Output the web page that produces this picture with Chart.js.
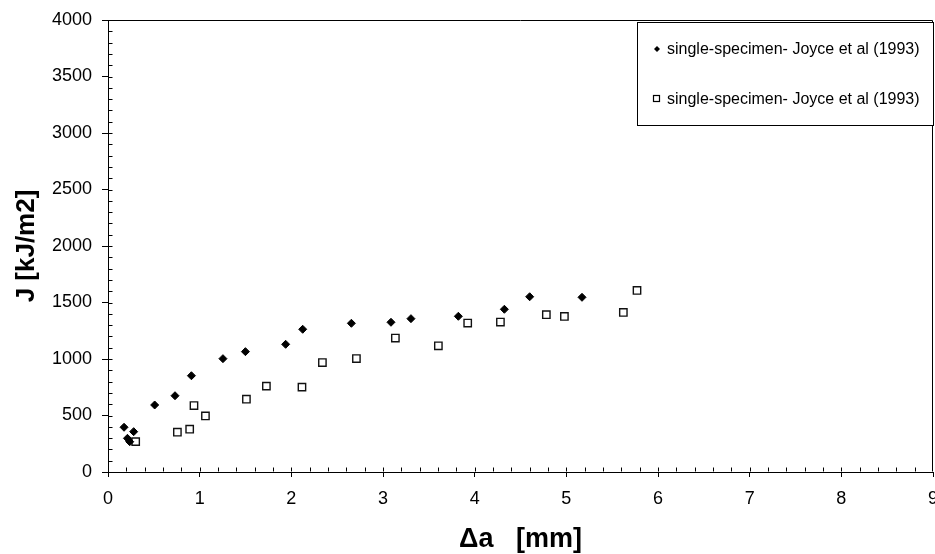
<!DOCTYPE html>
<html>
<head>
<meta charset="utf-8">
<script src="https://cdn.jsdelivr.net/npm/chart.js@4/dist/chart.umd.min.js"></script>
<style>
  body { margin: 0; background: #fff; }
  #wrap { width: 935px; height: 554px; position: relative; }
</style>
</head>
<body>
<div id="wrap"><canvas id="jr"></canvas></div>
<script>
const legendText = 'single-specimen- Joyce et al (1993)';

const filledX = [0.175, 0.212, 0.237, 0.280, 0.509, 0.731, 0.910, 1.254, 1.499, 1.938, 2.124, 2.655, 3.087, 3.305, 3.822, 4.324, 4.600, 5.171];
const filledJ = [396, 298, 268, 357, 593, 675, 852, 1003, 1065, 1130, 1263, 1316, 1325, 1357, 1378, 1440, 1551, 1546];

const openX = [0.302, 0.757, 0.891, 0.938, 1.063, 1.510, 1.728, 2.116, 2.339, 2.710, 3.135, 3.604, 3.924, 4.281, 4.782, 4.979, 5.622, 5.771];
const openJ = [269, 352, 379, 588, 496, 644, 760, 751, 969, 1004, 1185, 1117, 1318, 1327, 1392, 1377, 1412, 1607];

const xTicks = [0, 1, 2, 3, 4, 5, 6, 7, 8, 9];
const yTicks = [0, 500, 1000, 1500, 2000, 2500, 3000, 3500, 4000];

const FONT = '"Liberation Sans", Arial, sans-serif';

function pts(xs, ys) {
  return xs.map((x, i) => ({ x: x, y: ys[i] }));
}

// minor ticks inside the frame, frame top/right, legend box
const frame = {
  id: 'frame',
  afterDraw(chart) {
    const ctx = chart.ctx;
    const a = chart.chartArea;
    const xs = chart.scales.x, ys = chart.scales.y;
    const L = Math.round(a.left) + 0.5, R = Math.round(a.right) - 0.5;
    const T = Math.round(a.top) + 0.5, B = Math.round(a.bottom) - 0.5;
    ctx.save();
    ctx.strokeStyle = '#000';
    ctx.lineWidth = 1;
    ctx.beginPath();
    ctx.moveTo(L, T); ctx.lineTo(R, T); ctx.lineTo(R, B);
    // x minor ticks every 0.2
    for (let v = 0.2; v < 9; v += 0.2) {
      const px = Math.round(xs.getPixelForValue(v)) + 0.5;
      ctx.moveTo(px, B); ctx.lineTo(px, B - 4);
    }
    // y minor ticks every 100
    for (let v = 100; v < 4000; v += 100) {
      const py = Math.round(ys.getPixelForValue(v)) + 0.5;
      ctx.moveTo(L, py); ctx.lineTo(L + 4, py);
    }
    ctx.stroke();

    // legend
    const bx = 637.5, by = 22.5, bw = 296, bh = 103;
    ctx.fillStyle = '#fff';
    ctx.fillRect(bx, by, bw, bh);
    ctx.strokeRect(bx, by, bw, bh);
    ctx.fillStyle = '#000';
    ctx.beginPath();
    ctx.moveTo(657, 46); ctx.lineTo(660, 49); ctx.lineTo(657, 52); ctx.lineTo(654, 49);
    ctx.closePath();
    ctx.fill();
    ctx.lineWidth = 1.2;
    ctx.strokeRect(653.5, 95.5, 6, 6);
    ctx.font = '16px ' + FONT;
    ctx.textBaseline = 'middle';
    ctx.fillText(legendText, 667, 49.5);
    ctx.fillText(legendText, 667, 99.5);
    ctx.restore();
  }
};

new Chart(document.getElementById('jr'), {
  type: 'scatter',
  data: {
    datasets: [{
      label: legendText,
      data: pts(filledX, filledJ),
      pointStyle: 'rectRot',
      pointRadius: 4,
      backgroundColor: '#000',
      borderColor: '#000',
      borderWidth: 1
    }, {
      label: legendText,
      data: pts(openX, openJ),
      pointStyle: 'rect',
      pointRadius: 5.2,
      backgroundColor: '#fff',
      borderColor: '#111',
      borderWidth: 1.4
    }]
  },
  options: {
    responsive: true,
    maintainAspectRatio: false,
    animation: false,
    layout: { autoPadding: false, padding: { top: 20, right: 2, left: 0, bottom: 0 } },
    plugins: {
      legend: { display: false },
      tooltip: { enabled: false }
    },
    scales: {
      x: {
        type: 'linear',
        min: 0, max: 9,
        afterFit(s) { s.height = 82; s.paddingLeft = 0; s.paddingRight = 0; },
        afterBuildTicks(s) { s.ticks = xTicks.map(v => ({ value: v })); },
        ticks: { color: '#000', font: { family: FONT, size: 18 }, padding: 11, callback: v => String(v) },
        grid: { drawOnChartArea: false, drawTicks: true, tickLength: 5, color: '#000' },
        border: { display: true, color: '#000', width: 1 },
        title: {
          display: true, text: 'Δa   [mm]', color: '#000',
          font: { family: FONT, size: 27, weight: 'bold', lineHeight: 1.1 },
          padding: { top: 0, bottom: 0 }
        }
      },
      y: {
        type: 'linear',
        min: 0, max: 4000,
        afterFit(s) { s.width = 108; s.paddingTop = 0; s.paddingBottom = 0; },
        afterBuildTicks(s) { s.ticks = yTicks.map(v => ({ value: v })); },
        ticks: { color: '#000', font: { family: FONT, size: 18 }, padding: 10, callback: v => String(v) },
        grid: { drawOnChartArea: false, drawTicks: true, tickLength: 6, color: '#000' },
        border: { display: true, color: '#000', width: 1 },
        title: {
          display: true, text: 'J [kJ/m2]', color: '#000',
          font: { family: FONT, size: 26, weight: 'bold', lineHeight: 1.1 },
          padding: { top: 13, bottom: 0 }
        }
      }
    }
  },
  plugins: [frame]
});
</script>
</body>
</html>
